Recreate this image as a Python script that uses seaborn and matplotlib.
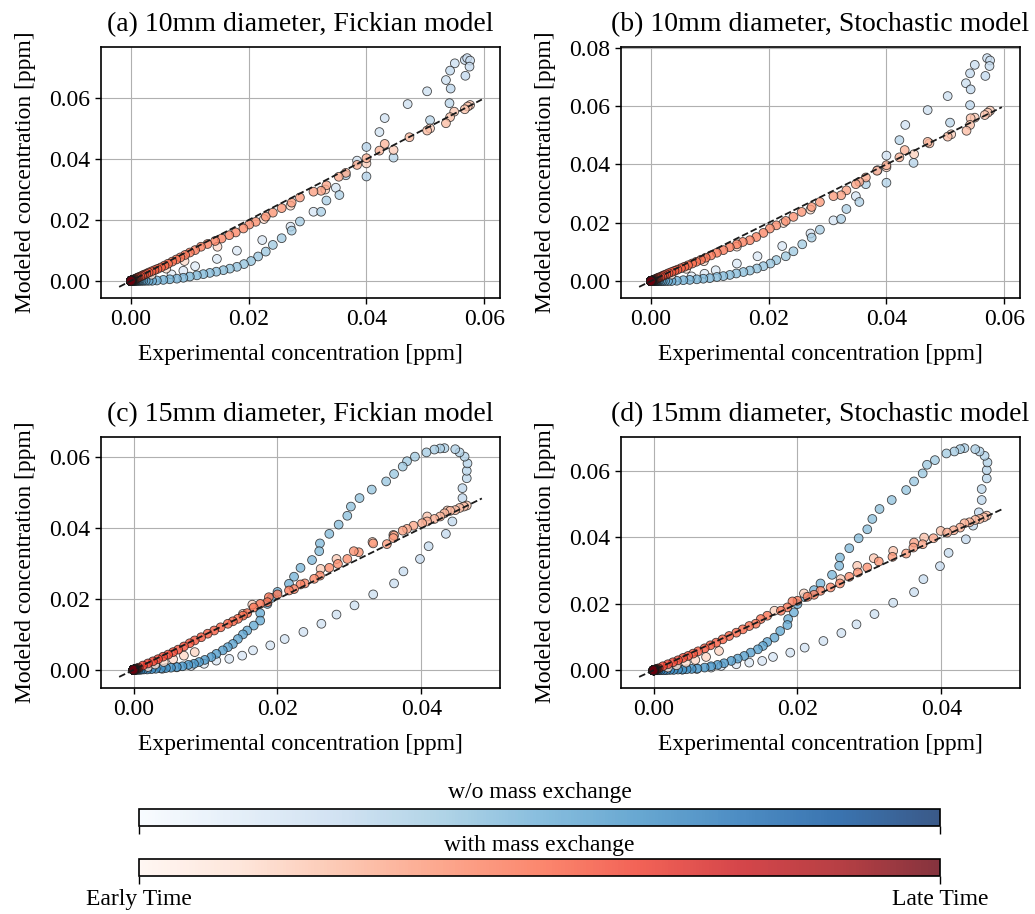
import numpy as np
import pandas as pd
import matplotlib
matplotlib.use("Agg")
import matplotlib.pyplot as plt
from matplotlib.ticker import MultipleLocator
import seaborn as sns

# ---- (a) 10mm, Fickian ----
# points in time order: zero before arrival, rise, peak/decay, tail at origin
a_blue_x = ([0.0] * 15 +
            [0.0069, 0.0089, 0.0109, 0.0146, 0.0180, 0.0223, 0.0271, 0.0310, 0.0348, 0.0384,
             0.0422, 0.0431, 0.0470, 0.0503, 0.0535, 0.0550, 0.0567, 0.0571] +
            [0.0576, 0.0575, 0.0542, 0.0568, 0.0543, 0.0541, 0.0508, 0.0446, 0.0400, 0.0400,
             0.0365, 0.0354, 0.0332, 0.0323, 0.0287, 0.0273] +
            [0.0256, 0.0241, 0.0229, 0.0216, 0.0204, 0.0192, 0.0180, 0.0168, 0.0157, 0.0145,
             0.0134, 0.0123, 0.0112, 0.0100, 0.0089, 0.0078, 0.0066, 0.0055, 0.0044] +
            [0.0036, 0.0030, 0.0025, 0.0021, 0.0018, 0.0015, 0.0013, 0.0011, 0.0009, 0.0008,
             0.0007, 0.0006, 0.0005, 0.0004, 0.0004, 0.0003, 0.0003, 0.0002, 0.0002, 0.0002] +
            [0.0001] * 15 + [0.0] * 35)
a_blue_y = ([0.0] * 15 +
            [0.0021, 0.0033, 0.0048, 0.0072, 0.0099, 0.0134, 0.0178, 0.0227, 0.0306, 0.0395,
             0.0489, 0.0535, 0.0581, 0.0623, 0.0660, 0.0715, 0.0726, 0.0732] +
            [0.0724, 0.0704, 0.0691, 0.0674, 0.0632, 0.0584, 0.0528, 0.0405, 0.0440, 0.0343,
             0.0347, 0.0282, 0.0264, 0.0227, 0.0195, 0.0165] +
            [0.0140, 0.0118, 0.0096, 0.0080, 0.0065, 0.0055, 0.0046, 0.0040, 0.0035, 0.0030,
             0.0026, 0.0022, 0.0018, 0.0014, 0.0010, 0.0007, 0.0005, 0.0003, 0.0001] +
            [0.0] * 70)
a_red_x = ([0.0] * 15 +
           [0.0035, 0.0060, 0.0091, 0.0147, 0.0226, 0.0271, 0.0330, 0.0400, 0.0446, 0.0508, 0.0549] +
           [0.0576, 0.0572, 0.0567, 0.0542, 0.0535, 0.0503, 0.0473, 0.0431, 0.0422, 0.0400,
            0.0384, 0.0365, 0.0353, 0.0332, 0.0323, 0.0310, 0.0287, 0.0273, 0.0256, 0.0241,
            0.0229, 0.0212, 0.0201, 0.0191, 0.0178, 0.0167, 0.0154, 0.0143, 0.0130, 0.0119,
            0.0109, 0.0100, 0.0092, 0.0084, 0.0077, 0.0070, 0.0063, 0.0057, 0.0051, 0.0045] +
           [0.0040, 0.0035, 0.0030, 0.0026, 0.0022, 0.0019, 0.0016, 0.0013, 0.0011, 0.0009,
            0.0007, 0.0006, 0.0005, 0.0004, 0.0003, 0.0003, 0.0002, 0.0002] +
           [0.0001] * 12 + [0.0] * 30)
a_red_y = ([0.0] * 15 +
           [0.0020, 0.0040, 0.0065, 0.0112, 0.0203, 0.0247, 0.0300, 0.0386, 0.0430, 0.0501, 0.0556] +
           [0.0578, 0.0573, 0.0564, 0.0538, 0.0518, 0.0494, 0.0472, 0.0450, 0.0428, 0.0403,
            0.0381, 0.0355, 0.0342, 0.0314, 0.0296, 0.0293, 0.0274, 0.0257, 0.0239, 0.0224,
            0.0211, 0.0194, 0.0185, 0.0172, 0.0159, 0.0150, 0.0139, 0.0131, 0.0121, 0.0112,
            0.0101, 0.0093, 0.0085, 0.0077, 0.0070, 0.0063, 0.0056, 0.0050, 0.0044, 0.0039] +
           [0.0035, 0.0031, 0.0027, 0.0023, 0.0020, 0.0017, 0.0014, 0.0012, 0.0010, 0.0008,
            0.0006, 0.0005, 0.0004, 0.0003, 0.0003, 0.0002, 0.0002, 0.0001] +
           [0.0001] * 12 + [0.0] * 30)

# ---- (b) 10mm, Stochastic ----
b_blue_x = ([0.0] * 15 +
            [0.0069, 0.0091, 0.0110, 0.0146, 0.0181, 0.0223, 0.0271, 0.0310, 0.0348, 0.0385,
             0.0400, 0.0432, 0.0470, 0.0504, 0.0535, 0.0550, 0.0571] +
            [0.0576, 0.0575, 0.0542, 0.0568, 0.0543, 0.0542, 0.0508, 0.0422, 0.0446, 0.0400,
             0.0365, 0.0354, 0.0332, 0.0323, 0.0287, 0.0273] +
            [0.0257, 0.0242, 0.0229, 0.0213, 0.0203, 0.0191, 0.0180, 0.0168, 0.0157, 0.0145,
             0.0134, 0.0123, 0.0112, 0.0100, 0.0089, 0.0078, 0.0066, 0.0055, 0.0044] +
            [0.0035, 0.0029, 0.0024, 0.0020, 0.0017, 0.0014, 0.0012, 0.0010, 0.0009, 0.0008,
             0.0007, 0.0006, 0.0005, 0.0004, 0.0004, 0.0003, 0.0003, 0.0002, 0.0002, 0.0002] +
            [0.0001] * 15 + [0.0] * 35)
b_blue_y = ([0.0] * 15 +
            [0.0016, 0.0025, 0.0037, 0.0060, 0.0085, 0.0120, 0.0163, 0.0208, 0.0291, 0.0380,
             0.0430, 0.0535, 0.0586, 0.0634, 0.0678, 0.0741, 0.0764] +
            [0.0756, 0.0737, 0.0712, 0.0703, 0.0657, 0.0603, 0.0543, 0.0483, 0.0405, 0.0337,
             0.0332, 0.0271, 0.0247, 0.0213, 0.0176, 0.0149] +
            [0.0126, 0.0102, 0.0085, 0.0072, 0.0060, 0.0051, 0.0043, 0.0036, 0.0031, 0.0026,
             0.0021, 0.0017, 0.0014, 0.0010, 0.0008, 0.0006, 0.0004, 0.0003, 0.0001] +
            [0.0] * 70)
b_red_x = ([0.0] * 15 +
           [0.0035, 0.0060, 0.0090, 0.0146, 0.0225, 0.0271, 0.0400, 0.0447, 0.0510, 0.0550] +
           [0.0576, 0.0572, 0.0567, 0.0543, 0.0542, 0.0536, 0.0504, 0.0473, 0.0470, 0.0431,
            0.0422, 0.0400, 0.0384, 0.0365, 0.0354, 0.0348, 0.0332, 0.0323, 0.0310, 0.0287,
            0.0273, 0.0256, 0.0242, 0.0229, 0.0213, 0.0202, 0.0191, 0.0179, 0.0168, 0.0156,
            0.0146, 0.0134, 0.0123, 0.0112, 0.0102, 0.0093, 0.0085, 0.0077, 0.0070, 0.0063,
            0.0057, 0.0051, 0.0045] +
           [0.0040, 0.0035, 0.0030, 0.0026, 0.0022, 0.0019, 0.0016, 0.0013, 0.0011, 0.0009,
            0.0007, 0.0006, 0.0005, 0.0004, 0.0003, 0.0003, 0.0002, 0.0002] +
           [0.0001] * 12 + [0.0] * 30)
b_red_y = ([0.0] * 15 +
           [0.0022, 0.0042, 0.0068, 0.0118, 0.0199, 0.0245, 0.0390, 0.0435, 0.0503, 0.0560] +
           [0.0584, 0.0577, 0.0569, 0.0558, 0.0535, 0.0515, 0.0495, 0.0472, 0.0477, 0.0449,
            0.0424, 0.0397, 0.0378, 0.0355, 0.0340, 0.0332, 0.0311, 0.0294, 0.0291, 0.0271,
            0.0254, 0.0237, 0.0220, 0.0206, 0.0191, 0.0180, 0.0165, 0.0151, 0.0140, 0.0134,
            0.0126, 0.0116, 0.0106, 0.0097, 0.0088, 0.0080, 0.0073, 0.0066, 0.0060, 0.0054,
            0.0049, 0.0044, 0.0039] +
           [0.0035, 0.0031, 0.0027, 0.0023, 0.0020, 0.0017, 0.0014, 0.0012, 0.0010, 0.0008,
            0.0006, 0.0005, 0.0004, 0.0003, 0.0003, 0.0002, 0.0002, 0.0001] +
           [0.0001] * 12 + [0.0] * 30)

# ---- (c) 15mm, Fickian ----
c_blue_x = ([0.0] * 15 +
            [0.0040, 0.0060, 0.0080, 0.0098, 0.0115, 0.0133, 0.0151, 0.0166, 0.0190, 0.0210,
             0.0236, 0.0261, 0.0282, 0.0307, 0.0333, 0.0362, 0.0375, 0.0398, 0.0410, 0.0434, 0.0443] +
            [0.0457, 0.0457, 0.0463, 0.0463, 0.0464, 0.0460, 0.0453, 0.0447, 0.0432, 0.0426,
             0.0418, 0.0407, 0.0391, 0.0380, 0.0374, 0.0362, 0.0351, 0.0331, 0.0314, 0.0302,
             0.0297, 0.0285, 0.0272, 0.0259, 0.0258, 0.0248, 0.0232, 0.0223, 0.0216, 0.0200,
             0.0192, 0.0186, 0.0176, 0.0176, 0.0167, 0.0158, 0.0152, 0.0145, 0.0138, 0.0131,
             0.0124, 0.0115, 0.0108, 0.0099, 0.0091, 0.0084, 0.0076, 0.0068] +
            [0.0060, 0.0052, 0.0045, 0.0038, 0.0031, 0.0025, 0.0019, 0.0014, 0.0010, 0.0007,
             0.0005, 0.0003, 0.0002] +
            [0.0001] * 10 + [0.0] * 30)
c_blue_y = ([0.0] * 15 +
            [0.0003, 0.0007, 0.0011, 0.0017, 0.0026, 0.0031, 0.0040, 0.0055, 0.0069, 0.0087,
             0.0107, 0.0130, 0.0156, 0.0182, 0.0213, 0.0244, 0.0278, 0.0313, 0.0349, 0.0384, 0.0419] +
            [0.0485, 0.0513, 0.0541, 0.0562, 0.0583, 0.0602, 0.0614, 0.0623, 0.0626, 0.0625,
             0.0622, 0.0614, 0.0602, 0.0589, 0.0574, 0.0553, 0.0532, 0.0509, 0.0485, 0.0461,
             0.0435, 0.0410, 0.0384, 0.0357, 0.0335, 0.0310, 0.0288, 0.0263, 0.0243, 0.0220,
             0.0203, 0.0186, 0.0160, 0.0139, 0.0125, 0.0111, 0.0100, 0.0087, 0.0073, 0.0064,
             0.0055, 0.0045, 0.0036, 0.0028, 0.0022, 0.0017, 0.0014, 0.0010] +
            [0.0008, 0.0006, 0.0005, 0.0004, 0.0003, 0.0002, 0.0001, 0.0001] +
            [0.0] * 45)
c_red_x = ([0.0] * 15 +
           [0.0020, 0.0030, 0.0042, 0.0055, 0.0070, 0.0085, 0.0152, 0.0165, 0.0260, 0.0282,
            0.0332, 0.0361, 0.0408, 0.0436] +
           [0.0463, 0.0459, 0.0453, 0.0447, 0.0440, 0.0432, 0.0426, 0.0418, 0.0408, 0.0401,
            0.0389, 0.0380, 0.0374, 0.0362, 0.0361, 0.0352, 0.0333, 0.0313, 0.0306, 0.0297,
            0.0284, 0.0272, 0.0259, 0.0251, 0.0238, 0.0232, 0.0223, 0.0216, 0.0200, 0.0188,
            0.0186, 0.0176, 0.0167, 0.0158, 0.0152, 0.0145, 0.0138, 0.0131, 0.0121, 0.0112,
            0.0103, 0.0094, 0.0085, 0.0078, 0.0070, 0.0062, 0.0055, 0.0048, 0.0041, 0.0034,
            0.0027, 0.0020, 0.0013, 0.0007] +
           [0.0005, 0.0004, 0.0003, 0.0003, 0.0002, 0.0002] +
           [0.0001] * 10 + [0.0] * 30)
c_red_y = ([0.0] * 15 +
           [0.0008, 0.0015, 0.0022, 0.0030, 0.0040, 0.0050, 0.0158, 0.0184, 0.0285, 0.0313,
            0.0361, 0.0381, 0.0433, 0.0450] +
           [0.0464, 0.0461, 0.0457, 0.0451, 0.0449, 0.0442, 0.0433, 0.0426, 0.0419, 0.0414,
            0.0407, 0.0398, 0.0393, 0.0379, 0.0372, 0.0355, 0.0357, 0.0332, 0.0335, 0.0313,
            0.0299, 0.0288, 0.0266, 0.0257, 0.0244, 0.0241, 0.0228, 0.0224, 0.0213, 0.0205,
            0.0191, 0.0186, 0.0176, 0.0160, 0.0153, 0.0144, 0.0137, 0.0130, 0.0120, 0.0111,
            0.0102, 0.0092, 0.0083, 0.0075, 0.0066, 0.0057, 0.0050, 0.0043, 0.0037, 0.0030,
            0.0024, 0.0018, 0.0012, 0.0006] +
           [0.0004, 0.0003, 0.0003, 0.0002, 0.0002, 0.0001] +
           [0.0001] * 10 + [0.0] * 30)

# ---- (d) 15mm, Stochastic ----
d_blue_x = ([0.0] * 15 +
            [0.0040, 0.0060, 0.0080, 0.0094, 0.0115, 0.0133, 0.0151, 0.0166, 0.0190, 0.0210,
             0.0236, 0.0261, 0.0282, 0.0307, 0.0333, 0.0362, 0.0375, 0.0398, 0.0410, 0.0434, 0.0444] +
            [0.0452, 0.0456, 0.0456, 0.0463, 0.0463, 0.0464, 0.0460, 0.0453, 0.0447, 0.0432,
             0.0426, 0.0418, 0.0407, 0.0391, 0.0380, 0.0374, 0.0362, 0.0351, 0.0331, 0.0314,
             0.0304, 0.0297, 0.0285, 0.0272, 0.0259, 0.0258, 0.0248, 0.0232, 0.0223, 0.0210,
             0.0200, 0.0195, 0.0187, 0.0186, 0.0176, 0.0168, 0.0158, 0.0152, 0.0145, 0.0135,
             0.0126, 0.0117, 0.0108, 0.0098, 0.0089, 0.0080, 0.0071, 0.0061] +
            [0.0053, 0.0046, 0.0040, 0.0034, 0.0028, 0.0023, 0.0018, 0.0014, 0.0010, 0.0007,
             0.0005, 0.0003, 0.0002] +
            [0.0001] * 10 + [0.0] * 30)
d_blue_y = ([0.0] * 15 +
            [0.0002, 0.0004, 0.0008, 0.0013, 0.0018, 0.0023, 0.0028, 0.0040, 0.0053, 0.0068,
             0.0088, 0.0112, 0.0138, 0.0169, 0.0203, 0.0235, 0.0274, 0.0313, 0.0353, 0.0394, 0.0435] +
            [0.0475, 0.0512, 0.0545, 0.0577, 0.0602, 0.0625, 0.0645, 0.0658, 0.0665, 0.0668,
             0.0665, 0.0658, 0.0652, 0.0632, 0.0618, 0.0592, 0.0568, 0.0542, 0.0512, 0.0485,
             0.0455, 0.0424, 0.0397, 0.0367, 0.0339, 0.0314, 0.0287, 0.0261, 0.0241, 0.0220,
             0.0199, 0.0174, 0.0154, 0.0136, 0.0118, 0.0098, 0.0085, 0.0073, 0.0063, 0.0053,
             0.0043, 0.0035, 0.0028, 0.0021, 0.0016, 0.0012, 0.0008, 0.0005] +
            [0.0004, 0.0003, 0.0002, 0.0002, 0.0001, 0.0001] +
            [0.0] * 47)
d_red_x = ([0.0] * 15 +
           [0.0020, 0.0032, 0.0045, 0.0058, 0.0073, 0.0091, 0.0168, 0.0209, 0.0260, 0.0283,
            0.0306, 0.0333, 0.0376, 0.0399] +
           [0.0463, 0.0459, 0.0453, 0.0447, 0.0439, 0.0432, 0.0426, 0.0417, 0.0408, 0.0389,
            0.0374, 0.0362, 0.0361, 0.0351, 0.0332, 0.0313, 0.0297, 0.0284, 0.0272, 0.0259,
            0.0246, 0.0232, 0.0223, 0.0214, 0.0200, 0.0193, 0.0186, 0.0177, 0.0158, 0.0149,
            0.0142, 0.0133, 0.0124, 0.0115, 0.0105, 0.0096, 0.0087, 0.0079, 0.0071, 0.0062,
            0.0055, 0.0048, 0.0041, 0.0034, 0.0027, 0.0020, 0.0013, 0.0007] +
           [0.0005, 0.0004, 0.0003, 0.0003, 0.0002, 0.0002] +
           [0.0001] * 10 + [0.0] * 30)
d_red_y = ([0.0] * 15 +
           [0.0008, 0.0015, 0.0023, 0.0031, 0.0040, 0.0058, 0.0179, 0.0231, 0.0274, 0.0314,
            0.0337, 0.0359, 0.0399, 0.0419] +
           [0.0465, 0.0460, 0.0455, 0.0452, 0.0445, 0.0442, 0.0429, 0.0421, 0.0414, 0.0397,
            0.0379, 0.0384, 0.0369, 0.0351, 0.0341, 0.0327, 0.0309, 0.0294, 0.0281, 0.0261,
            0.0249, 0.0239, 0.0227, 0.0221, 0.0209, 0.0207, 0.0189, 0.0179, 0.0164, 0.0154,
            0.0140, 0.0133, 0.0123, 0.0113, 0.0103, 0.0093, 0.0083, 0.0075, 0.0066, 0.0057,
            0.0050, 0.0043, 0.0037, 0.0030, 0.0024, 0.0018, 0.0012, 0.0006] +
           [0.0004, 0.0003, 0.0003, 0.0002, 0.0002, 0.0001] +
           [0.0001] * 10 + [0.0] * 30)

titles = ["(a) 10mm diameter, Fickian model", "(b) 10mm diameter, Stochastic model",
          "(c) 15mm diameter, Fickian model", "(d) 15mm diameter, Stochastic model"]

sns.set_theme(style="whitegrid")
plt.rcParams["font.family"] = ["Liberation Serif", "DejaVu Serif"]
plt.rcParams.update({
    "axes.edgecolor": "black", "axes.linewidth": 1.2,
    "grid.color": "#b0b0b0", "grid.linewidth": 0.8,
    "xtick.bottom": True, "ytick.left": True,
    "xtick.major.size": 4, "ytick.major.size": 4,
    "xtick.major.width": 1, "ytick.major.width": 1,
    "xtick.color": "black", "ytick.color": "black",
    "axes.labelcolor": "black", "text.color": "black",
    "xtick.labelsize": 17, "ytick.labelsize": 17, "axes.labelsize": 17,
})

fig = plt.figure(figsize=(10.35, 9.14), dpi=100)
boxes = [[0.0976, 0.6736, 0.3855, 0.2753], [0.6000, 0.6736, 0.3855, 0.2753],
         [0.0976, 0.2469, 0.3855, 0.2753], [0.6000, 0.2469, 0.3855, 0.2753]]
panels = [(a_blue_x, a_blue_y, a_red_x, a_red_y), (b_blue_x, b_blue_y, b_red_x, b_red_y),
          (c_blue_x, c_blue_y, c_red_x, c_red_y), (d_blue_x, d_blue_y, d_red_x, d_red_y)]

for box, (bx, by, rx, ry), title in zip(boxes, panels, titles):
    ax = fig.add_axes(box)
    for xs, ys, pal in [(bx, by, "Blues"), (rx, ry, "Reds")]:
        df = pd.DataFrame({"exp": xs, "mod": ys, "t": np.arange(len(xs))})
        sns.scatterplot(data=df, x="exp", y="mod", hue="t", palette=pal,
                        hue_norm=(0, len(xs) - 1), s=40, edgecolor="k",
                        linewidth=0.6, alpha=0.8, legend=False, ax=ax)
    hi = max(max(bx), max(rx)) + 0.002
    ax.plot([-0.002, hi], [-0.002, hi], color="k", ls="--", lw=1.3)
    ax.xaxis.set_major_locator(MultipleLocator(0.02))
    ax.yaxis.set_major_locator(MultipleLocator(0.02))
    ax.set_xlabel("Experimental concentration [ppm]", labelpad=10)
    ax.set_ylabel("Modeled concentration [ppm]", labelpad=10)
    ax.set_title(title, fontsize=20, pad=11)

sm_b = plt.cm.ScalarMappable(cmap="Blues", norm=plt.Normalize(0, 1))
sm_r = plt.cm.ScalarMappable(cmap="Reds", norm=plt.Normalize(0, 1))
cax1 = fig.add_axes([0.1343, 0.0963, 0.774, 0.0186])
cax2 = fig.add_axes([0.1343, 0.0416, 0.774, 0.0186])
cb1 = fig.colorbar(sm_b, cax=cax1, orientation="horizontal", alpha=0.8, ticks=[0, 1])
cb2 = fig.colorbar(sm_r, cax=cax2, orientation="horizontal", alpha=0.8, ticks=[0, 1])
cb1.ax.set_xticklabels(["", ""])
cb2.ax.set_xticklabels(["Early Time", "Late Time"], fontsize=17)
cax1.set_title("w/o mass exchange", fontsize=17, pad=8)
cax2.set_title("with mass exchange", fontsize=17, pad=6)
for cb in (cb1, cb2):
    cb.ax.grid(False)
    cb.outline.set_linewidth(1.2)
    cb.ax.tick_params(length=6, width=1, direction="out")

fig.savefig("out.png", dpi=100)
